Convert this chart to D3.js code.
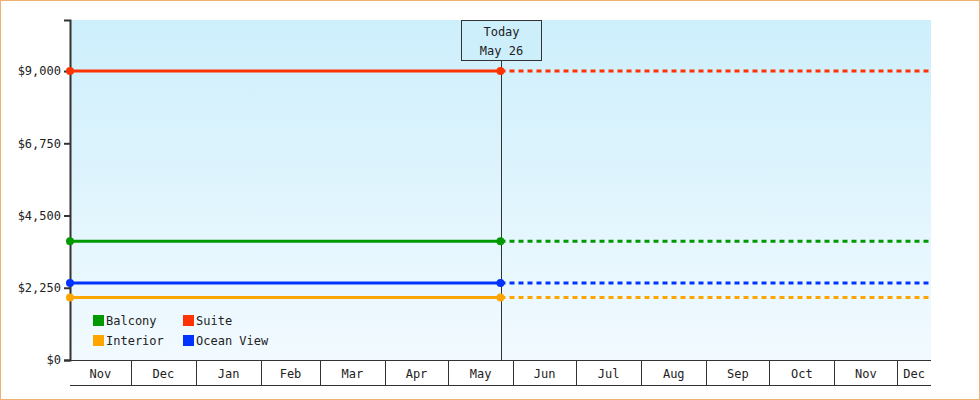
<!DOCTYPE html>
<html><head><meta charset="utf-8">
<script src="https://cdn.jsdelivr.net/npm/d3@7"></script>
<style>body{margin:0;background:#fff}text{font-family:"DejaVu Sans Mono",monospace;font-size:12px;fill:#222}</style>
</head><body><svg id="c" width="980" height="400"></svg>
<script>
var seriesNames = ["Balcony", "Suite", "Interior", "Ocean View"];
var seriesColors = ["#009900", "#ff3300", "#ffa500", "#0033ff"];
var seriesValues = [3700, 9000, 1950, 2400];
var yTicks = [0, 2250, 4500, 6750, 9000];
var startDate = "2024-11-02", todayDate = "2025-05-26", endDate = "2025-12-17";

var parse = d3.timeParse("%Y-%m-%d");
var x0 = parse(startDate), today = parse(todayDate), x1 = parse(endDate);
var L = 70, R = 931, T = 20, B = 360;
var svg = d3.select("#c");
svg.append("rect").attr("x",0.5).attr("y",0.5).attr("width",979).attr("height",399).attr("fill","none").attr("stroke","#f0b070");

var defs = svg.append("defs");
var g = defs.append("linearGradient").attr("id","bg").attr("x1",0).attr("y1",0).attr("x2",0).attr("y2",1);
g.append("stop").attr("offset","0").attr("stop-color","#cdeffc");
g.append("stop").attr("offset","1").attr("stop-color","#f2faff");
svg.append("rect").attr("x",L).attr("y",T).attr("width",R-L).attr("height",B-T).attr("fill","url(#bg)");

var x = d3.scaleTime().domain([x0, x1]).range([L, R]);
var y = d3.scaleLinear().domain([0, 10590]).range([B, T]);

// y axis
var ya = svg.append("g").attr("transform","translate("+L+",0)")
  .call(d3.axisLeft(y).tickValues(yTicks).tickFormat(d=>"$"+d3.format(",")(d)).tickSize(6));
ya.select(".domain").attr("stroke","#333").attr("stroke-width",2);
ya.selectAll(".tick line").attr("stroke","#333").attr("stroke-width",2);
ya.selectAll("text").attr("font-family","DejaVu Sans Mono").attr("font-size",12).attr("fill","#222");

// x month boxes
var months = d3.timeMonth.range(d3.timeMonth.floor(x0), x1);
svg.append("line").attr("x1",L).attr("x2",R).attr("y1",B+0.5).attr("y2",B+0.5).attr("stroke","#333");
svg.append("line").attr("x1",L).attr("x2",R).attr("y1",385.5).attr("y2",385.5).attr("stroke","#333");
months.forEach(function(m){
  var a = Math.max(L, x(m)), b = Math.min(R, x(d3.timeMonth.offset(m,1)));
  if (x(m) > L) svg.append("line").attr("x1",Math.round(a)+0.5).attr("x2",Math.round(a)+0.5).attr("y1",B).attr("y2",385).attr("stroke","#333");
  svg.append("text").attr("x",(a+b)/2).attr("y",378).attr("text-anchor","middle").text(d3.timeFormat("%b")(m));
});

// today line
var tx = Math.round(x(today))+0.5;
svg.append("line").attr("x1",tx).attr("x2",tx).attr("y1",61).attr("y2",B).attr("stroke","#333");
svg.append("rect").attr("x",tx-40).attr("y",20.5).attr("width",80).attr("height",40).attr("fill","#cdeffc").attr("stroke","#333");
svg.append("text").attr("x",tx).attr("y",36).attr("text-anchor","middle").text("Today");
svg.append("text").attr("x",tx).attr("y",55).attr("text-anchor","middle").text("May 26");

// series
seriesValues.forEach(function(v,i){
  var yy = y(v), c = seriesColors[i];
  svg.append("line").attr("x1",x(x0)).attr("x2",x(today)).attr("y1",yy).attr("y2",yy).attr("stroke",c).attr("stroke-width",3);
  svg.append("line").attr("x1",x(today)).attr("x2",R).attr("y1",yy).attr("y2",yy).attr("stroke",c).attr("stroke-width",3).attr("stroke-dasharray","5,4");
  [x0, today].forEach(function(d){
    svg.append("circle").attr("cx",x(d)).attr("cy",yy).attr("r",4).attr("fill",c);
  });
});

// legend
seriesNames.forEach(function(n,i){
  var lx = 93 + (i%2)*90, ly = 315 + Math.floor(i/2)*20;
  svg.append("rect").attr("x",lx).attr("y",ly).attr("width",11).attr("height",11).attr("fill",seriesColors[i]);
  svg.append("text").attr("x",lx+13).attr("y",ly+10).text(n);
});
</script></body></html>
